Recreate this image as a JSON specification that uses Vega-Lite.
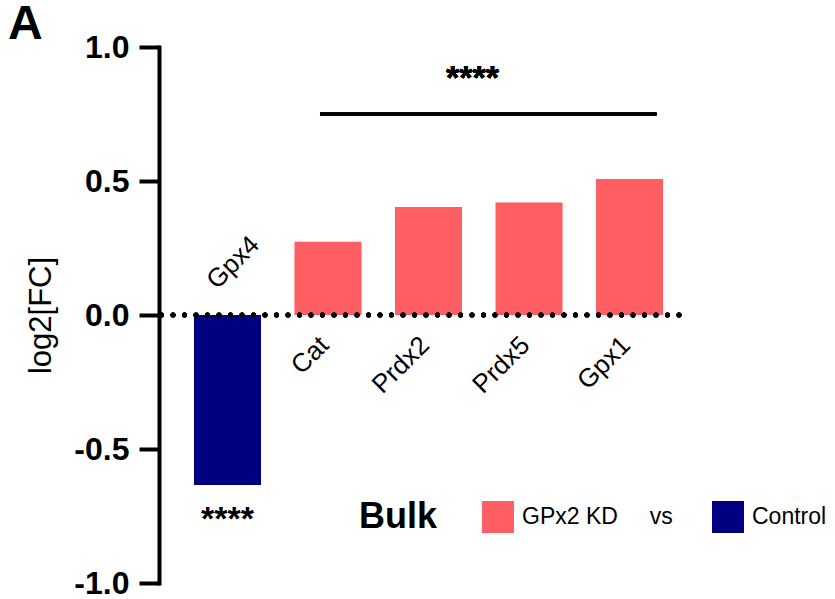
{
  "$schema": "https://vega.github.io/schema/vega-lite/v6.json",
  "autosize": "none",
  "width": 530,
  "height": 536,
  "padding": {"left": 159, "top": 47, "right": 146, "bottom": 16},
  "background": "white",
  "title": {"text": "A", "anchor": "start", "frame": "group", "fontSize": 48, "fontWeight": "bold", "font": "Liberation Sans", "color": "black", "dx": -151, "dy": 63, "offset": 7, "baseline": "alphabetic"},
  "config": {"view": {"stroke": null}, "font": "Liberation Sans"},
  "data": {"values": [
    {"gene": "Gpx4", "value": -0.634, "group": "Control"},
    {"gene": "Cat", "value": 0.273, "group": "GPx2 KD"},
    {"gene": "Prdx2", "value": 0.403, "group": "GPx2 KD"},
    {"gene": "Prdx5", "value": 0.42, "group": "GPx2 KD"},
    {"gene": "Gpx1", "value": 0.507, "group": "GPx2 KD"}
  ]},
  "encoding": {
    "x": {"field": "gene", "type": "nominal", "sort": null, "axis": null,
          "scale": {"domain": ["Gpx4", "Cat", "Prdx2", "Prdx5", "Gpx1"], "paddingInner": 0.333, "paddingOuter": 0.303, "align": 0.574}}
  },
  "layer": [
    {
      "mark": {"type": "bar"},
      "encoding": {
        "y": {"field": "value", "type": "quantitative",
              "scale": {"domain": [-1, 1], "nice": false, "zero": false},
              "axis": {"title": "log2[FC]", "titleFontSize": 31, "titleFontWeight": "normal", "titleColor": "black", "titlePadding": 16,
                       "values": [-1, -0.5, 0, 0.5, 1], "grid": false,
                       "labelExpr": "datum.value < 0 ? '-' + format(-datum.value, '.1f') : format(datum.value, '.1f')",
                       "labelFontSize": 32, "labelFontWeight": "bold", "labelColor": "black", "labelPadding": 10,
                       "domainColor": "black", "domainWidth": 4, "domainCap": "square",
                       "tickColor": "black", "tickWidth": 4, "tickSize": 20}},
        "color": {"field": "group", "type": "nominal",
                  "scale": {"domain": ["GPx2 KD", "Control"], "range": ["#FF5F62", "#000080"]},
                  "legend": {"orient": "none", "legendX": 200, "legendY": 454, "direction": "horizontal",
                             "title": "Bulk", "titleOrient": "left", "titleFontSize": 36, "titleFontWeight": "bold", "titleColor": "black",
                             "titlePadding": 44, "titleBaseline": "middle", "titleAnchor": "middle",
                             "symbolType": "square", "symbolSize": 1024, "symbolStrokeWidth": 0, "symbolOpacity": 1,
                             "labelFontSize": 23, "labelColor": "black", "labelOffset": 8, "columnPadding": 39, "labelLimit": 300,
                             "labelExpr": "datum.label == 'GPx2 KD' ? 'GPx2 KD\u00a0\u00a0\u00a0\u00a0\u00a0vs' : datum.label"}}
      }
    },
    {
      "mark": {"type": "rule", "color": "black", "strokeWidth": 5, "strokeDash": [0, 11.5], "strokeCap": "round", "strokeDashOffset": 1.5},
      "encoding": {"y": {"datum": 0, "type": "quantitative"}, "x": null}
    },
    {
      "transform": [{"filter": "datum.value > 0"}],
      "mark": {"type": "text", "align": "right", "baseline": "alphabetic", "angle": -45, "dx": -21, "dy": 24, "fontSize": 26, "color": "black"},
      "encoding": {"y": {"datum": 0, "type": "quantitative"}, "text": {"field": "gene"}}
    },
    {
      "transform": [{"filter": "datum.value < 0"}],
      "mark": {"type": "text", "align": "left", "baseline": "alphabetic", "angle": -45, "dx": 10, "dy": -25, "fontSize": 26, "color": "black"},
      "encoding": {"y": {"datum": 0, "type": "quantitative"}, "text": {"field": "gene"}}
    },
    {
      "transform": [{"filter": "datum.value < 0"}],
      "mark": {"type": "text", "align": "center", "baseline": "alphabetic", "dy": 45, "fontSize": 34, "fontWeight": "bold", "color": "black"},
      "encoding": {"y": {"field": "value", "type": "quantitative"}, "text": {"value": "****"}}
    },
    {
      "mark": {"type": "rule", "color": "black", "strokeWidth": 3, "xOffset": -8, "x2Offset": 27},
      "encoding": {"x": {"datum": "Cat", "type": "nominal"}, "x2": {"datum": "Gpx1"}, "y": {"datum": 0.75, "type": "quantitative"}}
    },
    {
      "mark": {"type": "text", "align": "center", "baseline": "alphabetic", "dx": 44, "fontSize": 34, "fontWeight": "bold", "color": "black"},
      "encoding": {"x": {"datum": "Prdx2", "type": "nominal"}, "y": {"datum": 0.842, "type": "quantitative"}, "text": {"value": "****"}}
    }
  ]
}
